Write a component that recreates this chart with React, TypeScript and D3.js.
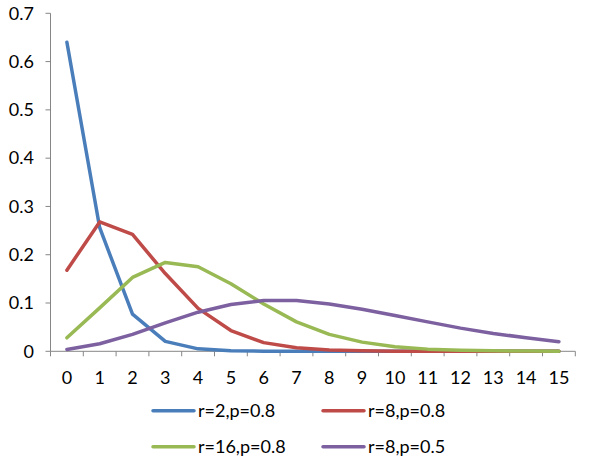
import * as d3 from "d3";
import React, { useEffect, useRef } from "react";

const categories = ["0", "1", "2", "3", "4", "5", "6", "7", "8", "9", "10", "11", "12", "13", "14", "15"];
const yTicks = [0, 0.1, 0.2, 0.3, 0.4, 0.5, 0.6, 0.7];

const seriesNames = ["r=2,p=0.8", "r=8,p=0.8", "r=16,p=0.8", "r=8,p=0.5"];
const seriesColors = ["#4a7ebb", "#be4b48", "#98b954", "#7d60a0"];

const r2p08 = [0.64, 0.256, 0.0768, 0.0205, 0.0051, 0.0012, 0.0003, 0.0001, 0, 0, 0, 0, 0, 0, 0, 0];
const r8p08 = [0.168, 0.268, 0.242, 0.161, 0.089, 0.043, 0.018, 0.0074, 0.0028, 0.001, 0.0003, 0.0001, 0, 0, 0, 0];
const r16p08 = [0.028, 0.09, 0.153, 0.184, 0.175, 0.14, 0.098, 0.061, 0.035, 0.019, 0.0094, 0.0045, 0.002, 0.0009, 0.0004, 0.0001];
const r8p05 = [0.0039, 0.0156, 0.035, 0.059, 0.081, 0.097, 0.105, 0.105, 0.098, 0.087, 0.074, 0.061, 0.048, 0.037, 0.028, 0.02];

const seriesValues = [r2p08, r8p08, r16p08, r8p05];

const App: React.FC = () => {
  const ref = useRef<SVGSVGElement>(null);

  useEffect(() => {
    const width = 591;
    const height = 473;
    const svg = d3.select(ref.current);
    svg.selectAll("*").remove();
    svg.attr("width", width).attr("height", height);

    const font = "Lato, 'Open Sans', sans-serif";
    const fontSize = "18px";
    const axisColor = "#868686";

    const x = d3.scaleBand<string>().domain(categories).range([50.5, 575.3]);
    const y = d3.scaleLinear().domain([0, 0.7]).range([351.3, 13.3]);

    // y axis
    svg
      .append("line")
      .attr("x1", 50.5)
      .attr("x2", 50.5)
      .attr("y1", y(0.7))
      .attr("y2", y(0))
      .attr("stroke", axisColor);
    yTicks.forEach((t) => {
      svg
        .append("line")
        .attr("x1", 45.5)
        .attr("x2", 50.5)
        .attr("y1", y(t))
        .attr("y2", y(t))
        .attr("stroke", axisColor);
      svg
        .append("text")
        .text(t === 0 ? "0" : d3.format(".1f")(t))
        .attr("x", 34)
        .attr("y", y(t))
        .attr("dy", "0.35em")
        .attr("text-anchor", "end")
        .attr("font-family", font)
        .attr("font-size", fontSize)
        .attr("fill", "#000");
    });

    // x axis
    svg
      .append("line")
      .attr("x1", 50.5)
      .attr("x2", 575.3)
      .attr("y1", y(0))
      .attr("y2", y(0))
      .attr("stroke", axisColor);
    categories.concat([""]).forEach((c, i) => {
      const xp = 50.5 + i * x.step();
      svg
        .append("line")
        .attr("x1", xp)
        .attr("x2", xp)
        .attr("y1", y(0))
        .attr("y2", y(0) + 5)
        .attr("stroke", axisColor);
    });
    categories.forEach((c) => {
      svg
        .append("text")
        .text(c)
        .attr("x", (x(c) as number) + x.bandwidth() / 2)
        .attr("y", 378)
        .attr("dy", "0.35em")
        .attr("text-anchor", "middle")
        .attr("font-family", font)
        .attr("font-size", fontSize)
        .attr("fill", "#000");
    });

    // series
    const line = d3
      .line<number>()
      .x((d, i) => (x(categories[i]) as number) + x.bandwidth() / 2)
      .y((d) => y(d));

    seriesValues.forEach((vals, i) => {
      svg
        .append("path")
        .attr("d", line(vals))
        .attr("fill", "none")
        .attr("stroke", seriesColors[i])
        .attr("stroke-width", 3.5)
        .attr("stroke-linejoin", "round")
        .attr("stroke-linecap", "round");
    });

    // legend
    const legendPos = [
      [153, 410.7],
      [323, 410.7],
      [153, 446.7],
      [323, 446.7],
    ];
    seriesNames.forEach((name, i) => {
      const [lx, ly] = legendPos[i];
      svg
        .append("line")
        .attr("x1", lx)
        .attr("x2", lx + 41)
        .attr("y1", ly)
        .attr("y2", ly)
        .attr("stroke", seriesColors[i])
        .attr("stroke-width", 3.5)
        .attr("stroke-linecap", "round");
      svg
        .append("text")
        .text(name)
        .attr("x", lx + 45)
        .attr("y", ly)
        .attr("dy", "0.35em")
        .attr("font-family", font)
        .attr("font-size", fontSize)
        .attr("fill", "#000");
    });
  }, []);

  return (
    <svg
      ref={ref}
      style={{ position: "absolute", left: 0, top: 0, display: "block" }}
    ></svg>
  );
};

export default App;
